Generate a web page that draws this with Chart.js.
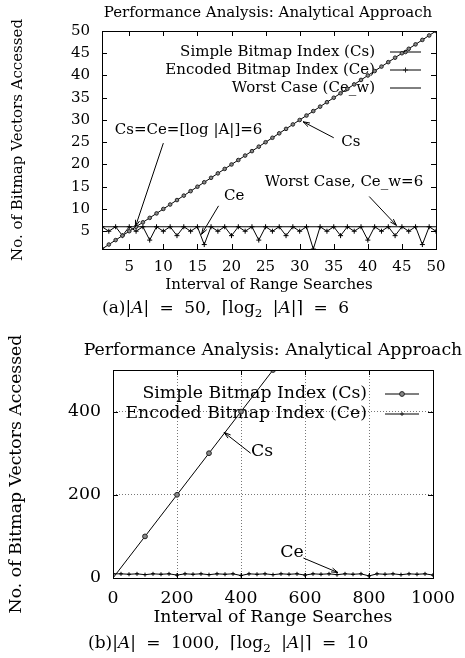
<!DOCTYPE html>
<html>
<head>
<title>Performance Analysis: Analytical Approach</title>
<script src="https://cdn.jsdelivr.net/npm/chart.js@4.4.0/dist/chart.umd.min.js"></script>
<style>
    body { margin: 0; background: #fff; }
    #wrap { position: relative; width: 465px; height: 658px; }
    canvas { position: absolute; left: 0; }
    .cap {
        position: absolute;
        font-family: "DejaVu Serif", serif;
        color: #000;
        white-space: nowrap;
        line-height: 1;
        font-size: 17px;
        word-spacing: 5px;
    }
    .cap sub { font-size: 0.7em; vertical-align: -0.3em; }
</style>
</head>
<body>
<div id="wrap">
    <canvas id="chartA" width="465" height="300" style="top:0"></canvas>
    <div class="cap" id="capA" style="left:102px; top:299px">(a)|<i>A</i>| = 50, &lceil;log<sub>2</sub> |<i>A</i>|&rceil; = 6</div>
    <canvas id="chartB" width="465" height="300" style="top:330px"></canvas>
    <div class="cap" id="capB" style="left:88px; top:634px">(b)|<i>A</i>| = 1000, &lceil;log<sub>2</sub> |<i>A</i>|&rceil; = 10</div>
</div>

<script>
    // ---- chart (a): |A| = 50 ----
    const intervalsA = [1, 2, 3, 4, 5, 6, 7, 8, 9, 10, 11, 12, 13, 14, 15, 16, 17, 18, 19, 20,
        21, 22, 23, 24, 25, 26, 27, 28, 29, 30, 31, 32, 33, 34, 35, 36, 37, 38, 39, 40,
        41, 42, 43, 44, 45, 46, 47, 48, 49, 50];
    const simpleA = [1, 2, 3, 4, 5, 6, 7, 8, 9, 10, 11, 12, 13, 14, 15, 16, 17, 18, 19, 20,
        21, 22, 23, 24, 25, 26, 27, 28, 29, 30, 31, 32, 33, 34, 35, 36, 37, 38, 39, 40,
        41, 42, 43, 44, 45, 46, 47, 48, 49, 50];
    const encodedA = [6, 5, 6, 4, 6, 5, 6, 3, 6, 5, 6, 4, 6, 5, 6, 2, 6, 5, 6, 4,
        6, 5, 6, 3, 6, 5, 6, 4, 6, 5, 6, 1, 6, 5, 6, 4, 6, 5, 6, 3,
        6, 5, 6, 4, 6, 5, 6, 2, 6, 5];
    const worstXA = [1, 50];
    const worstA = [6, 6];
    const xTicksA = [5, 10, 15, 20, 25, 30, 35, 40, 45, 50];
    const yTicksA = [5, 10, 15, 20, 25, 30, 35, 40, 45, 50];

    // ---- chart (b): |A| = 1000 ----
    const intervalsB = [1, 100, 200, 300, 400, 500, 600, 700, 800, 900, 1000];
    const simpleB = [1, 100, 200, 300, 400, 500, 600, 700, 800, 900, 1000];
    const encodedXB = [1, 25, 50, 75, 100, 125, 150, 175, 200, 225, 250, 275, 300, 325, 350, 375,
        400, 425, 450, 475, 500, 525, 550, 575, 600, 625, 650, 675, 700, 725, 750, 775,
        800, 825, 850, 875, 900, 925, 950, 975, 1000];
    const encodedB = [10, 10, 9, 10, 8, 10, 9, 10, 7, 10, 9, 10, 8, 10, 9, 10,
        6, 10, 9, 10, 8, 10, 9, 10, 7, 10, 9, 10, 8, 10, 9, 10,
        5, 10, 9, 10, 8, 10, 9, 10, 7];
    const xTicksB = [0, 200, 400, 600, 800, 1000];
    const yTicksB = [0, 200, 400];

    const TITLE = 'Performance Analysis: Analytical Approach';
    const XTITLE = 'Interval of Range Searches';
    const YTITLE = 'No. of Bitmap Vectors Accessed';
    const SERIF = '"DejaVu Serif", serif';

    function pts(xs, ys) {
        return xs.map((x, i) => ({ x: x, y: ys[i] }));
    }

    function arrow(ctx, x1, y1, x2, y2) {
        const a = Math.atan2(y2 - y1, x2 - x1);
        const h = 7, w = 0.3;
        ctx.beginPath();
        ctx.moveTo(x1, y1);
        ctx.lineTo(x2, y2);
        ctx.moveTo(x2 - h * Math.cos(a - w), y2 - h * Math.sin(a - w));
        ctx.lineTo(x2, y2);
        ctx.lineTo(x2 - h * Math.cos(a + w), y2 - h * Math.sin(a + w));
        ctx.stroke();
    }

    // gnuplot-like frame, inward ticks, key on the right, labels and arrows
    const gnuplotLook = {
        id: 'gnuplotLook',
        beforeDatasetsDraw(chart, args, o) {
            const ctx = chart.ctx;
            ctx.save();
            ctx.fillStyle = '#000';
            ctx.strokeStyle = '#000';
            ctx.lineWidth = 1;
            ctx.font = o.size + 'px ' + SERIF;
            ctx.textAlign = 'right';
            ctx.textBaseline = 'middle';
            o.key.forEach(k => {
                ctx.fillText(k.text, o.keyRight, k.y);
                ctx.beginPath();
                ctx.moveTo(o.sample[0], k.y);
                ctx.lineTo(o.sample[1], k.y);
                ctx.stroke();
                if (k.marker) {
                    ctx.fillStyle = k.fill || '#000';
                    ctx.strokeStyle = '#222';
                    Chart.helpers.drawPoint(ctx, { pointStyle: k.marker, radius: k.r, borderWidth: 1, rotation: 0 },
                        (o.sample[0] + o.sample[1]) / 2, k.y);
                    ctx.fillStyle = '#000';
                    ctx.strokeStyle = '#000';
                }
            });
            ctx.restore();
        },
        afterDatasetsDraw(chart, args, o) {
            const ctx = chart.ctx;
            const a = chart.chartArea;
            const xs = chart.scales.x, ys = chart.scales.y;
            ctx.save();
            ctx.strokeStyle = '#000';
            ctx.fillStyle = '#000';
            ctx.lineWidth = 1;
            ctx.strokeRect(Math.round(a.left) + 0.5, Math.round(a.top) + 0.5,
                Math.round(a.right - a.left), Math.round(a.bottom - a.top));
            ctx.beginPath();
            xs.ticks.forEach(t => {
                const px = Math.round(xs.getPixelForValue(t.value)) + 0.5;
                ctx.moveTo(px, a.bottom); ctx.lineTo(px, a.bottom - o.tick);
                ctx.moveTo(px, a.top); ctx.lineTo(px, a.top + o.tick);
            });
            ys.ticks.forEach(t => {
                const py = Math.round(ys.getPixelForValue(t.value)) + 0.5;
                ctx.moveTo(a.left, py); ctx.lineTo(a.left + o.tick, py);
                ctx.moveTo(a.right, py); ctx.lineTo(a.right - o.tick, py);
            });
            ctx.stroke();

            ctx.font = o.size + 'px ' + SERIF;
            ctx.textAlign = 'center';
            ctx.textBaseline = 'middle';
            ctx.fillText(TITLE, o.titleX, o.titleY);
            o.notes.forEach(n => {
                ctx.fillText(n.text, xs.getPixelForValue(n.x), ys.getPixelForValue(n.y));
                if (n.from) {
                    arrow(ctx, xs.getPixelForValue(n.from[0]), ys.getPixelForValue(n.from[1]),
                        xs.getPixelForValue(n.to[0]), ys.getPixelForValue(n.to[1]));
                }
            });
            ctx.restore();
        }
    };

    function makeChart(id, c) {
        return new Chart(document.getElementById(id), {
            type: 'line',
            data: { datasets: c.datasets },
            plugins: [gnuplotLook],
            options: {
                responsive: false,
                animation: false,
                layout: { padding: c.padding },
                plugins: {
                    legend: { display: false },
                    tooltip: { enabled: false },
                    gnuplotLook: c.look
                },
                scales: {
                    x: {
                        type: 'linear',
                        min: c.xmin, max: c.xmax,
                        afterBuildTicks: s => { s.ticks = c.xTicks.map(v => ({ value: v })); },
                        afterFit: s => { s.height = c.xAxisH; },
                        grid: { display: c.grid, drawTicks: false, color: '#777', lineWidth: 1 },
                        border: { display: false, dash: [1, 2] },
                        ticks: { color: '#000', padding: c.xPad, maxRotation: 0, autoSkip: false,
                            callback: v => String(v),
                            font: { family: SERIF, size: c.size } },
                        title: { display: true, text: XTITLE, color: '#000', padding: { top: 0, bottom: c.xTitlePad },
                            font: { family: SERIF, size: c.size } }
                    },
                    y: {
                        type: 'linear',
                        min: c.ymin, max: c.ymax,
                        afterBuildTicks: s => { s.ticks = c.yTicks.map(v => ({ value: v })); },
                        afterFit: s => { s.width = c.yAxisW; },
                        grid: { display: c.grid, drawTicks: false, color: '#777', lineWidth: 1 },
                        border: { display: false, dash: [1, 2] },
                        ticks: { color: '#000', padding: c.yPad, autoSkip: false,
                            callback: v => String(v),
                            font: { family: SERIF, size: c.size } },
                        title: { display: true, text: YTITLE, color: '#000', padding: { top: c.yTitlePad, bottom: 0 },
                            font: { family: SERIF, size: c.size } }
                    }
                }
            }
        });
    }

    makeChart('chartA', {
        size: 15,
        padding: { left: 0, right: 29, top: 31, bottom: 0 },
        xmin: 1, xmax: 50, ymin: 1, ymax: 50,
        xTicks: xTicksA, yTicks: yTicksA,
        xAxisH: 51, yAxisW: 102,
        xPad: 9, yPad: 12, xTitlePad: 6, yTitlePad: 9,
        grid: false,
        datasets: [
            { data: pts(intervalsA, simpleA), borderColor: '#000', borderWidth: 1,
              pointStyle: 'circle', pointRadius: 1.8, pointBackgroundColor: '#888', pointBorderColor: '#222', pointBorderWidth: 1 },
            { data: pts(intervalsA, encodedA), borderColor: '#000', borderWidth: 1,
              pointStyle: 'cross', pointRadius: 2.5, pointBorderColor: '#000', pointBorderWidth: 1 },
            { data: pts(worstXA, worstA), borderColor: '#000', borderWidth: 1, pointRadius: 0 }
        ],
        look: {
            size: 15, tick: 5,
            titleX: 268, titleY: 13,
            keyRight: 375, sample: [390, 421],
            key: [
                { text: 'Simple Bitmap Index (Cs)', y: 52, marker: 'circle', r: 1.8, fill: '#888' },
                { text: 'Encoded Bitmap Index (Ce)', y: 70, marker: 'cross', r: 2.5 },
                { text: 'Worst Case (Ce_w)', y: 88 }
            ],
            notes: [
                { text: 'Cs=Ce=[log |A|]=6', x: 13.7, y: 27.8, from: [10, 24.8], to: [5.9, 6] },
                { text: 'Cs', x: 37.5, y: 25, from: [35, 26], to: [30.5, 29.6] },
                { text: 'Ce', x: 20.4, y: 12.8, from: [18.1, 10.7], to: [15.6, 4.3] },
                { text: 'Worst Case, Ce_w=6', x: 36.5, y: 16, from: [40.2, 12.8], to: [44.2, 6.3] }
            ]
        }
    });

    makeChart('chartB', {
        size: 17.3,
        padding: { left: 0, right: 29, top: 40, bottom: 0 },
        xmin: 0, xmax: 1000, ymin: 0, ymax: 500,
        xTicks: xTicksB, yTicks: yTicksB,
        xAxisH: 52, yAxisW: 113,
        xPad: 10, yPad: 12, xTitlePad: 2, yTitlePad: 6,
        grid: true,
        datasets: [
            { data: pts(intervalsB, simpleB), borderColor: '#000', borderWidth: 1,
              pointStyle: 'circle', pointRadius: ctx => ctx.dataIndex === 0 ? 0 : 2.4,
              pointBackgroundColor: '#888', pointBorderColor: '#222', pointBorderWidth: 1 },
            { data: pts(encodedXB, encodedB), borderColor: '#000', borderWidth: 1,
              pointStyle: 'cross', pointRadius: 2, pointBorderColor: '#000', pointBorderWidth: 1 }
        ],
        look: {
            size: 17.3, tick: 5,
            titleX: 273, titleY: 21,
            keyRight: 367, sample: [385, 419],
            key: [
                { text: 'Simple Bitmap Index (Cs)', y: 64, marker: 'circle', r: 2.4, fill: '#888' },
                { text: 'Encoded Bitmap Index (Ce)', y: 84, marker: 'cross', r: 2 }
            ],
            notes: [
                { text: 'Cs', x: 466, y: 304, from: [430, 300], to: [347, 350] },
                { text: 'Ce', x: 559, y: 61, from: [595, 48], to: [703, 13] }
            ]
        }
    });
</script>
</body>
</html>
